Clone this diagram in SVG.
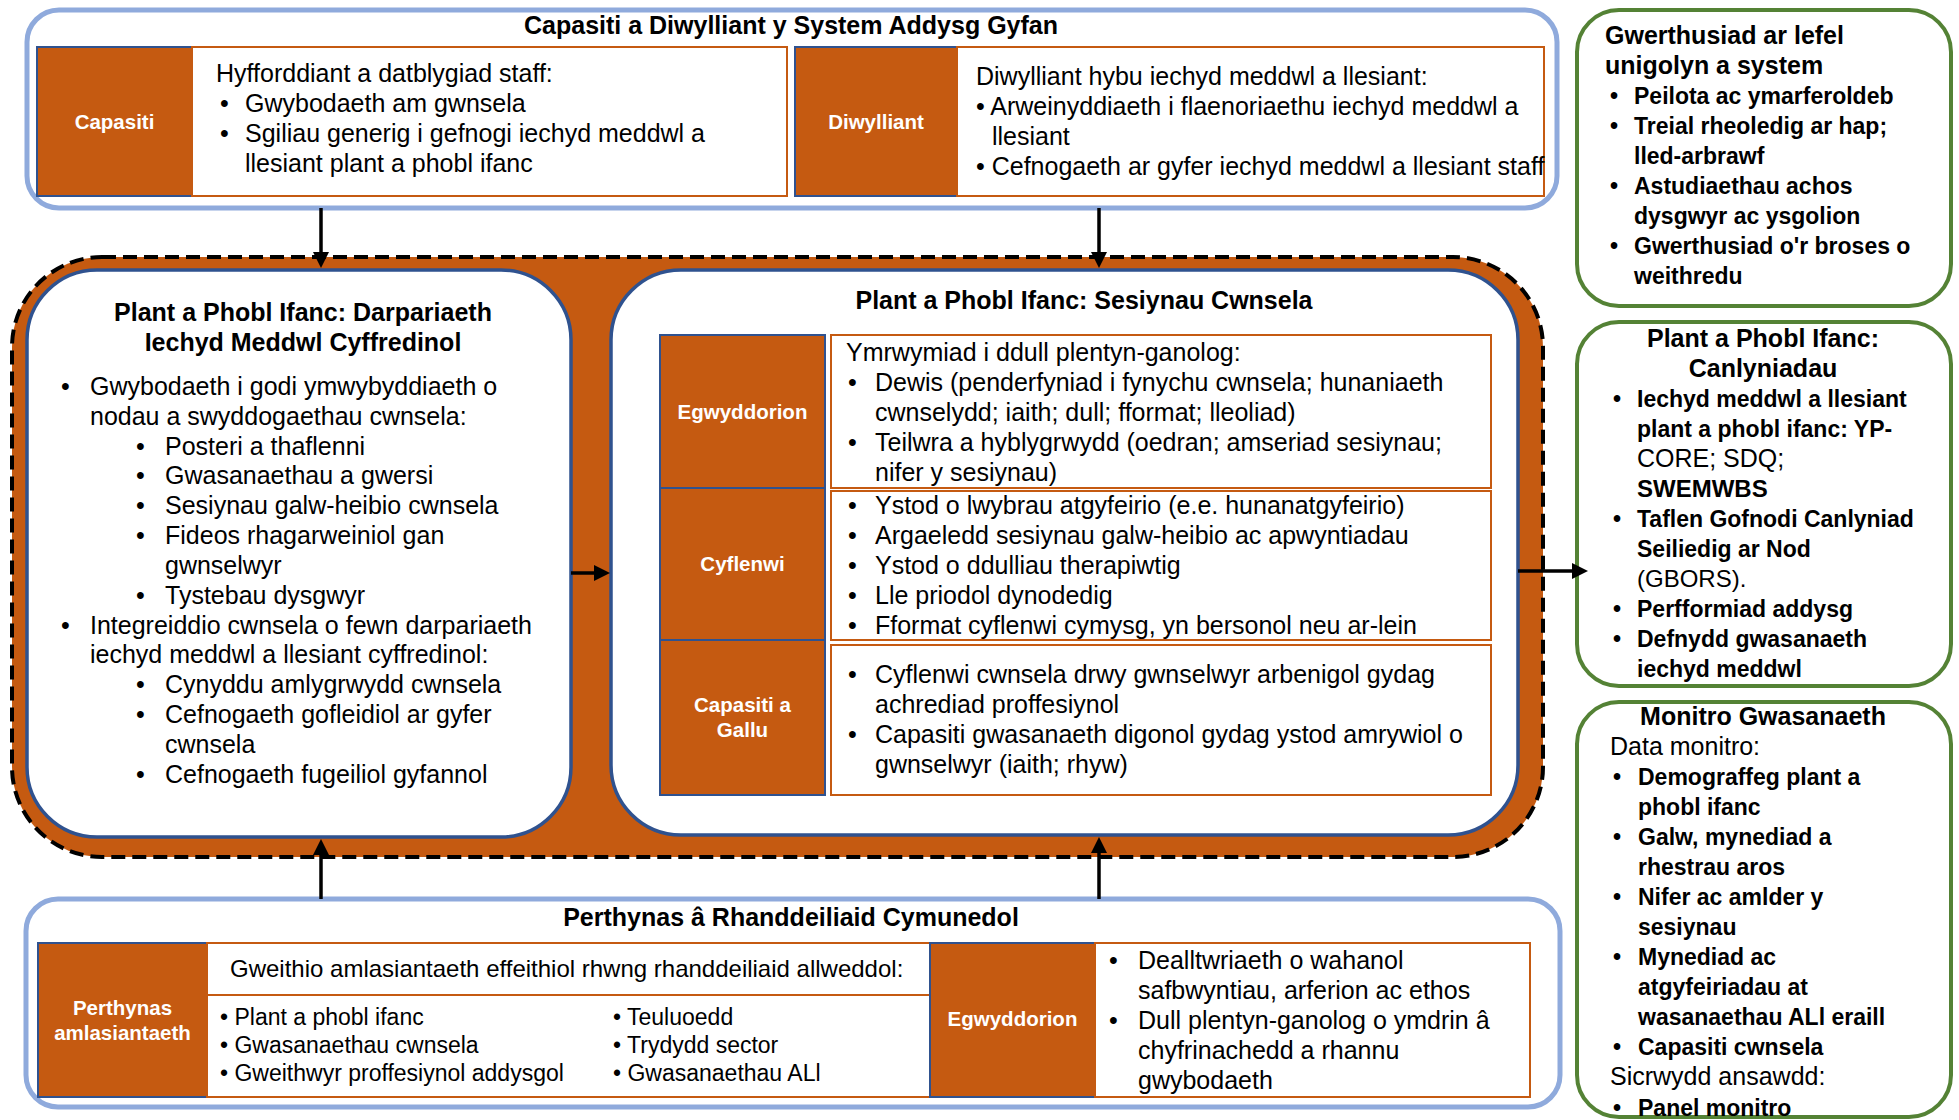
<svg xmlns="http://www.w3.org/2000/svg" width="1959" height="1120" viewBox="0 0 1959 1120">
<defs>
<style>
.t{font-family:"Liberation Sans",Arial,sans-serif;font-size:25px;fill:#000}
.b{font-weight:bold}
.m{text-anchor:middle}
.s24{font-size:24px}
.s23{font-size:23px}
.g{font-size:23px;font-weight:bold}
.gt{font-size:25px;font-weight:bold}
.lbl{font-family:"Liberation Sans",Arial,sans-serif;font-size:20.5px;font-weight:bold;fill:#fff;text-anchor:middle}
.orng{fill:#C55A11;stroke:#2F528F;stroke-width:2}
.cell{fill:#fff;stroke:#C55A11;stroke-width:2}
.frame{fill:#fff;stroke:#8FAADC;stroke-width:5}
.green{fill:#fff;stroke:#548235;stroke-width:4}
.inner{fill:#fff;stroke:#2F528F;stroke-width:3.5}
.conn{stroke:#000;stroke-width:3.5;fill:none;marker-end:url(#ah)}
</style>
<marker id="ah" viewBox="0 0 10 10" refX="1.25" refY="5" markerWidth="16" markerHeight="16" markerUnits="userSpaceOnUse" orient="auto">
<path d="M0,0 L10,5 L0,10 z" fill="#000"/>
</marker>
</defs>
<rect width="1959" height="1120" fill="#fff"/>

<!-- Top frame -->
<g id="top-frame">
<rect class="frame" x="27" y="10" width="1530" height="198" rx="32"/>
<text class="t b m" x="791" y="34">Capasiti a Diwylliant y System Addysg Gyfan</text>
</g>
<g id="capasiti">
<rect class="orng" x="37" y="47" width="155" height="149"/>
<text class="lbl" x="114.5" y="129">Capasiti</text>
</g>
<g id="capasiti-text">
<rect class="cell" x="192" y="47" width="595" height="149"/>
<text class="t" x="216" y="82">Hyfforddiant a datblygiad staff:</text>
<text class="t" x="220" y="112">•</text><text class="t" x="245" y="112">Gwybodaeth am gwnsela</text>
<text class="t" x="220" y="142">•</text><text class="t" x="245" y="142">Sgiliau generig i gefnogi iechyd meddwl a</text>
<text class="t" x="245" y="172">llesiant plant a phobl ifanc</text>
</g>
<g id="diwylliant">
<rect class="orng" x="795" y="47" width="162" height="149"/>
<text class="lbl" x="876" y="129">Diwylliant</text>
</g>
<g id="diwylliant-text">
<rect class="cell" x="957" y="47" width="587" height="149"/>
<text class="t" x="976" y="85">Diwylliant hybu iechyd meddwl a llesiant:</text>
<text class="t" x="976" y="115">• Arweinyddiaeth i flaenoriaethu iechyd meddwl a</text>
<text class="t" x="992" y="145">llesiant</text>
<text class="t" x="976" y="175">• Cefnogaeth ar gyfer iechyd meddwl a llesiant staff</text>
</g>

<!-- Central orange container -->
<g id="core">
<rect x="12" y="257" width="1531" height="600" rx="90" fill="#C55A11" stroke="#000" stroke-width="4" stroke-dasharray="14 7"/>
</g>

<g id="general-provision">
<rect class="inner" x="27" y="270" width="544" height="567" rx="70"/>
<text class="t b m" x="303" y="321">Plant a Phobl Ifanc: Darpariaeth</text>
<text class="t b m" x="303" y="351">Iechyd Meddwl Cyffredinol</text>
<text class="t" x="61" y="395">•</text><text class="t" x="90" y="395">Gwybodaeth i godi ymwybyddiaeth o</text>
<text class="t" x="90" y="425">nodau a swyddogaethau cwnsela:</text>
<text class="t" x="136" y="455">•</text><text class="t" x="165" y="455">Posteri a thaflenni</text>
<text class="t" x="136" y="484">•</text><text class="t" x="165" y="484">Gwasanaethau a gwersi</text>
<text class="t" x="136" y="514">•</text><text class="t" x="165" y="514">Sesiynau galw-heibio cwnsela</text>
<text class="t" x="136" y="544">•</text><text class="t" x="165" y="544">Fideos rhagarweiniol gan</text>
<text class="t" x="165" y="574">gwnselwyr</text>
<text class="t" x="136" y="604">•</text><text class="t" x="165" y="604">Tystebau dysgwyr</text>
<text class="t" x="61" y="634">•</text><text class="t" x="90" y="634">Integreiddio cwnsela o fewn darpariaeth</text>
<text class="t" x="90" y="663">iechyd meddwl a llesiant cyffredinol:</text>
<text class="t" x="136" y="693">•</text><text class="t" x="165" y="693">Cynyddu amlygrwydd cwnsela</text>
<text class="t" x="136" y="723">•</text><text class="t" x="165" y="723">Cefnogaeth gofleidiol ar gyfer</text>
<text class="t" x="165" y="753">cwnsela</text>
<text class="t" x="136" y="783">•</text><text class="t" x="165" y="783">Cefnogaeth fugeiliol gyfannol</text>
</g>

<g id="counselling-sessions">
<rect class="inner" x="611" y="270" width="907" height="565" rx="70"/>
<text class="t b m" x="1084" y="309">Plant a Phobl Ifanc: Sesiynau Cwnsela</text>
</g>
<g id="sess-egwyddorion">
<rect class="orng" x="660" y="335" width="165" height="153"/>
<text class="lbl" x="742.5" y="419">Egwyddorion</text>
<rect class="cell" x="831" y="335" width="660" height="153"/>
<text class="t" x="846" y="361">Ymrwymiad i ddull plentyn-ganolog:</text>
<text class="t" x="848" y="391">•</text><text class="t" x="875" y="391">Dewis (penderfyniad i fynychu cwnsela; hunaniaeth</text>
<text class="t" x="875" y="421">cwnselydd; iaith; dull; fformat; lleoliad)</text>
<text class="t" x="848" y="451">•</text><text class="t" x="875" y="451">Teilwra a hyblygrwydd (oedran; amseriad sesiynau;</text>
<text class="t" x="875" y="481">nifer y sesiynau)</text>
</g>
<g id="sess-cyflenwi">
<rect class="orng" x="660" y="488" width="165" height="152"/>
<text class="lbl" x="742.5" y="571">Cyflenwi</text>
<rect class="cell" x="831" y="491" width="660" height="149"/>
<text class="t" x="848" y="514">•</text><text class="t" x="875" y="514">Ystod o lwybrau atgyfeirio (e.e. hunanatgyfeirio)</text>
<text class="t" x="848" y="544">•</text><text class="t" x="875" y="544">Argaeledd sesiynau galw-heibio ac apwyntiadau</text>
<text class="t" x="848" y="574">•</text><text class="t" x="875" y="574">Ystod o ddulliau therapiwtig</text>
<text class="t" x="848" y="604">•</text><text class="t" x="875" y="604">Lle priodol dynodedig</text>
<text class="t" x="848" y="634">•</text><text class="t" x="875" y="634">Fformat cyflenwi cymysg, yn bersonol neu ar-lein</text>
</g>
<g id="sess-capasiti">
<rect class="orng" x="660" y="640" width="165" height="155"/>
<text class="lbl" x="742.5" y="712">Capasiti a</text>
<text class="lbl" x="742.5" y="737">Gallu</text>
<rect class="cell" x="831" y="645" width="660" height="150"/>
<text class="t" x="848" y="683">•</text><text class="t" x="875" y="683">Cyflenwi cwnsela drwy gwnselwyr arbenigol gydag</text>
<text class="t" x="875" y="713">achrediad proffesiynol</text>
<text class="t" x="848" y="743">•</text><text class="t" x="875" y="743">Capasiti gwasanaeth digonol gydag ystod amrywiol o</text>
<text class="t" x="875" y="773">gwnselwyr (iaith; rhyw)</text>
</g>

<!-- Bottom frame -->
<g id="bottom-frame">
<rect class="frame" x="26" y="899" width="1534" height="208" rx="32"/>
<text class="t b m" x="791" y="926">Perthynas â Rhanddeiliaid Cymunedol</text>
</g>
<g id="perthynas">
<rect class="orng" x="38" y="943" width="169" height="154"/>
<text class="lbl" x="122.5" y="1015">Perthynas</text>
<text class="lbl" x="122.5" y="1040">amlasiantaeth</text>
</g>
<g id="perthynas-text">
<rect class="cell" x="207" y="943" width="723" height="52"/>
<text class="t s24" x="230" y="977">Gweithio amlasiantaeth effeithiol rhwng rhanddeiliaid allweddol:</text>
<rect class="cell" x="207" y="995" width="723" height="102"/>
<text class="t s23" x="220" y="1025">• Plant a phobl ifanc</text>
<text class="t s23" x="220" y="1053">• Gwasanaethau cwnsela</text>
<text class="t s23" x="220" y="1081">• Gweithwyr proffesiynol addysgol</text>
<text class="t s23" x="613" y="1025">• Teuluoedd</text>
<text class="t s23" x="613" y="1053">• Trydydd sector</text>
<text class="t s23" x="613" y="1081">• Gwasanaethau ALl</text>
</g>
<g id="comm-egwyddorion">
<rect class="orng" x="930" y="943" width="165" height="154"/>
<text class="lbl" x="1012.5" y="1026">Egwyddorion</text>
<rect class="cell" x="1095" y="943" width="435" height="154"/>
<text class="t" x="1109" y="969">•</text><text class="t" x="1138" y="969">Dealltwriaeth o wahanol</text>
<text class="t" x="1138" y="999">safbwyntiau, arferion ac ethos</text>
<text class="t" x="1109" y="1029">•</text><text class="t" x="1138" y="1029">Dull plentyn-ganolog o ymdrin â</text>
<text class="t" x="1138" y="1059">chyfrinachedd a rhannu</text>
<text class="t" x="1138" y="1089">gwybodaeth</text>
</g>

<!-- Right column -->
<g id="evaluation">
<rect class="green" x="1577" y="10" width="374" height="296" rx="42"/>
<text class="t gt" x="1605" y="44">Gwerthusiad ar lefel</text>
<text class="t gt" x="1605" y="74">unigolyn a system</text>
<text class="t g" x="1610" y="104">•</text><text class="t g" x="1634" y="104">Peilota ac ymarferoldeb</text>
<text class="t g" x="1610" y="134">•</text><text class="t g" x="1634" y="134">Treial rheoledig ar hap;</text>
<text class="t g" x="1634" y="164">lled-arbrawf</text>
<text class="t g" x="1610" y="194">•</text><text class="t g" x="1634" y="194">Astudiaethau achos</text>
<text class="t g" x="1634" y="224">dysgwyr ac ysgolion</text>
<text class="t g" x="1610" y="254">•</text><text class="t g" x="1634" y="254">Gwerthusiad o'r broses o</text>
<text class="t g" x="1634" y="284">weithredu</text>
</g>
<g id="outcomes">
<rect class="green" x="1577" y="322" width="374" height="364" rx="42"/>
<text class="t gt m" x="1763" y="347">Plant a Phobl Ifanc:</text>
<text class="t gt m" x="1763" y="377">Canlyniadau</text>
<text class="t g" x="1613" y="407">•</text><text class="t g" x="1637" y="407">Iechyd meddwl a llesiant</text>
<text class="t g" x="1637" y="437">plant a phobl ifanc: YP-</text>
<text class="t" x="1637" y="467">CORE; SDQ;</text>
<text class="t s24 b" x="1637" y="497">SWEMWBS</text>
<text class="t g" x="1613" y="527">•</text><text class="t g" x="1637" y="527">Taflen Gofnodi Canlyniad</text>
<text class="t g" x="1637" y="557">Seiliedig ar Nod</text>
<text class="t s24" x="1637" y="587">(GBORS).</text>
<text class="t g" x="1613" y="617">•</text><text class="t g" x="1637" y="617">Perfformiad addysg</text>
<text class="t g" x="1613" y="647">•</text><text class="t g" x="1637" y="647">Defnydd gwasanaeth</text>
<text class="t g" x="1637" y="677">iechyd meddwl</text>
</g>
<g id="monitoring">
<rect class="green" x="1577" y="702" width="374" height="415" rx="42"/>
<text class="t gt m" x="1763" y="725">Monitro Gwasanaeth</text>
<text class="t" x="1610" y="755">Data monitro:</text>
<text class="t g" x="1613" y="785">•</text><text class="t g" x="1638" y="785">Demograffeg plant a</text>
<text class="t g" x="1638" y="815">phobl ifanc</text>
<text class="t g" x="1613" y="845">•</text><text class="t g" x="1638" y="845">Galw, mynediad a</text>
<text class="t g" x="1638" y="875">rhestrau aros</text>
<text class="t g" x="1613" y="905">•</text><text class="t g" x="1638" y="905">Nifer ac amlder y</text>
<text class="t g" x="1638" y="935">sesiynau</text>
<text class="t g" x="1613" y="965">•</text><text class="t g" x="1638" y="965">Mynediad ac</text>
<text class="t g" x="1638" y="995">atgyfeiriadau at</text>
<text class="t g" x="1638" y="1025">wasanaethau ALl eraill</text>
<text class="t g" x="1613" y="1055">•</text><text class="t g" x="1638" y="1055">Capasiti cwnsela</text>
<text class="t" x="1610" y="1085">Sicrwydd ansawdd:</text>
<text class="t g" x="1613" y="1116">•</text><text class="t g" x="1638" y="1116">Panel monitro</text>
</g>

<!-- Connectors -->
<g id="connectors">
<path class="conn" d="M321,208 V254"/>
<path class="conn" d="M1099,208 V254"/>
<path class="conn" d="M321,899 V853"/>
<path class="conn" d="M1099,899 V851"/>
<path class="conn" d="M571,573 H596"/>
<path class="conn" d="M1518,571 H1574"/>
</g>
</svg>
